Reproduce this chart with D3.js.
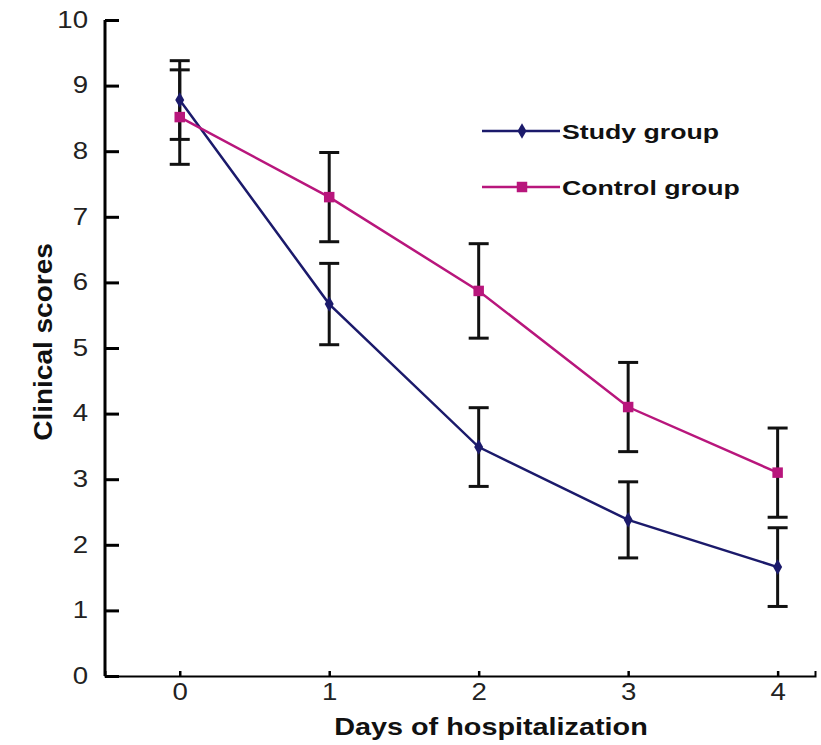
<!DOCTYPE html>
<html>
<head>
<meta charset="utf-8">
<script src="https://cdn.jsdelivr.net/npm/d3@7"></script>
<style>
  body { margin: 0; background: #fff; }
  text { font-family: "Liberation Sans", Arial, sans-serif; }
</style>
</head>
<body>
<div id="chart"></div>
<script>
var days = [0, 1, 2, 3, 4];
var studyMean = [8.78, 5.67, 3.49, 2.38, 1.66];
var studyErr = [0.6, 0.62, 0.6, 0.58, 0.6];
var controlMean = [8.52, 7.3, 5.87, 4.1, 3.1];
var controlErr = [0.72, 0.68, 0.72, 0.68, 0.68];
var yTicks = [0, 1, 2, 3, 4, 5, 6, 7, 8, 9, 10];

var width = 821, height = 745;
var margin = { top: 20, left: 105, right: 6, bottom: 69 };

var svg = d3.select("#chart").append("svg")
  .attr("width", width)
  .attr("height", height);

var x = d3.scaleLinear().domain([-0.5, 4.25]).range([margin.left, width - margin.right]);
var y = d3.scaleLinear().domain([0, 10]).range([height - margin.bottom, margin.top]);

// the original figure's lettering is a bit wider than Liberation Sans
function stretch(sel, k) {
  sel.each(function() {
    var w = this.getComputedTextLength();
    d3.select(this).attr("textLength", w * k).attr("lengthAdjust", "spacingAndGlyphs");
  });
}

var series = [
  { name: "Study group", mean: studyMean, err: studyErr, color: "#1b1a6b", shape: d3.symbolDiamond, size: 70 },
  { name: "Control group", mean: controlMean, err: controlErr, color: "#b8167c", shape: d3.symbolSquare, size: 110 }
];

// axes
var xAxis = d3.axisBottom(x).tickValues(days).tickFormat(d3.format("d")).tickSize(-5).tickPadding(8);
svg.append("g")
  .attr("transform", "translate(0," + y(0) + ")")
  .call(xAxis)
  .call(function(g) {
    g.select(".domain").attr("stroke-width", 2);
    g.selectAll(".tick line").attr("stroke-width", 2.5);
    g.selectAll(".tick text").attr("font-size", 23).attr("fill", "#222").call(stretch, 1.2);
  });

var yAxis = d3.axisLeft(y).tickValues(yTicks).tickSize(-14).tickPadding(17);
svg.append("g")
  .attr("transform", "translate(" + x(-0.5) + ",0)")
  .call(yAxis)
  .call(function(g) {
    g.select(".domain").attr("stroke-width", 3).attr("d", "M0," + y(0) + "V" + y(10));
    g.selectAll(".tick line").attr("stroke-width", 3);
    g.selectAll(".tick text").attr("font-size", 23).attr("fill", "#222").call(stretch, 1.2);
  });

// error bars
series.forEach(function(s) {
  var g = svg.append("g");
  days.forEach(function(d, i) {
    var top = y(s.mean[i] + s.err[i]), bot = y(s.mean[i] - s.err[i]);
    g.append("line").attr("x1", x(d)).attr("x2", x(d)).attr("y1", top).attr("y2", bot)
      .attr("stroke", "#111").attr("stroke-width", 3);
    [top, bot].forEach(function(yy) {
      g.append("line").attr("x1", x(d) - 10).attr("x2", x(d) + 10).attr("y1", yy).attr("y2", yy)
        .attr("stroke", "#111").attr("stroke-width", 3);
    });
  });
});

// lines and markers
var line = d3.line()
  .x(function(d, i) { return x(days[i]); })
  .y(function(d) { return y(d); });

series.forEach(function(s) {
  svg.append("path")
    .datum(s.mean)
    .attr("d", line)
    .attr("fill", "none")
    .attr("stroke", s.color)
    .attr("stroke-width", 2.5);
  svg.selectAll(null)
    .data(s.mean)
    .enter().append("path")
    .attr("d", d3.symbol().type(s.shape).size(s.size))
    .attr("transform", function(d, i) { return "translate(" + x(days[i]) + "," + y(d) + ")"; })
    .attr("fill", s.color);
});

// legend
var legend = svg.append("g").attr("transform", "translate(482,131)");
series.forEach(function(s, i) {
  var row = legend.append("g").attr("transform", "translate(0," + (i * 56) + ")");
  row.append("line").attr("x1", 0).attr("x2", 78).attr("stroke", s.color).attr("stroke-width", 2.5);
  row.append("path").attr("d", d3.symbol().type(s.shape).size(s.size)).attr("transform", "translate(40,0)").attr("fill", s.color);
  row.append("text").attr("x", 80).attr("y", 8).attr("font-size", 21).attr("font-weight", "bold")
    .attr("fill", "#111").text(s.name).call(stretch, 1.27);
});

// axis titles
svg.append("text")
  .attr("x", 491).attr("y", 735)
  .attr("text-anchor", "middle")
  .attr("font-size", 24).attr("font-weight", "bold").attr("fill", "#111")
  .text("Days of hospitalization")
  .call(stretch, 1.2);

svg.append("text")
  .attr("transform", "translate(52,342) rotate(-90)")
  .attr("text-anchor", "middle")
  .attr("font-size", 25).attr("font-weight", "bold").attr("fill", "#111")
  .text("Clinical scores")
  .call(stretch, 1.12);
</script>
</body>
</html>
